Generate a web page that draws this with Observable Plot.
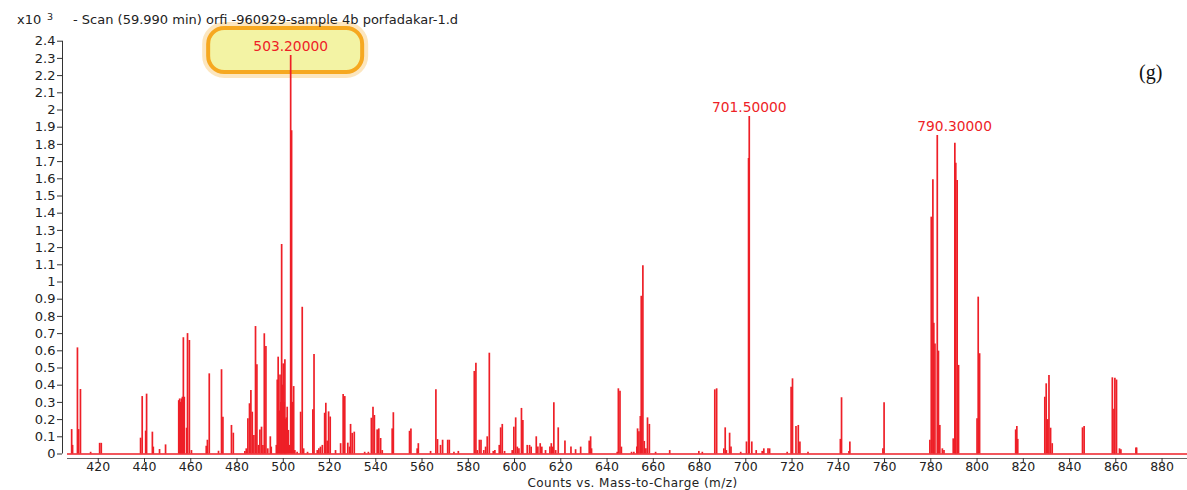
<!DOCTYPE html>
<html><head><meta charset="utf-8">
<script src="https://cdn.jsdelivr.net/npm/d3@7"></script>
<script src="https://cdn.jsdelivr.net/npm/@observablehq/plot@0.6"></script>
<style>
html,body{margin:0;padding:0;background:#fff;}
#wrap{position:relative;width:1187px;height:490px;overflow:hidden;font-family:"DejaVu Sans",sans-serif;color:#222;}
.hdr{position:absolute;top:12px;font-size:13px;white-space:pre;line-height:15px;}
#x10{left:17px;}
#exp{left:47px;top:9px;font-size:9.5px;}
#scan{left:73px;}
#tag{position:absolute;left:1139px;top:61px;font-family:"Liberation Serif",serif;font-size:20px;color:#111;}
</style></head><body>
<div id="wrap"><div id="chart"></div>
<div class="hdr" id="x10">x10</div><div class="hdr" id="exp">3</div>
<div class="hdr" id="scan">- Scan (59.990 min) orfi -960929-sample 4b porfadakar-1.d</div>
<div id="tag">(g)</div></div>
<script>
// m/z of each profile line
const mz = [408.5,408.9,411.0,411.5,412.3,416.7,420.6,421.3,438.3,439.0,440.5,440.9,443.4,443.8,446.5,449.1,
454.8,455.2,455.6,456.0,456.4,456.8,457.2,458.2,458.6,459.4,460.3,466.7,467.2,468.0,472.0,473.3,473.9,477.6,478.4,
483.4,484.0,484.7,485.4,486.0,486.6,487.3,488.0,488.6,489.3,489.9,490.6,491.2,491.8,492.5,493.3,494.4,494.8,
497.0,497.4,497.8,498.3,498.6,499.0,499.3,499.6,500.0,500.4,500.7,501.0,501.3,501.7,502.2,502.6,503.2,503.6,504.1,504.5,505.0,506.0,
507.5,508.2,508.8,510.5,512.8,513.3,514.7,515.4,516.1,516.9,517.9,518.4,519.0,519.6,520.3,522.6,524.8,525.9,526.6,527.9,528.7,529.1,529.8,530.7,
535.2,536.8,538.1,538.8,539.4,540.6,541.3,542.1,542.8,547.1,547.6,554.6,555.2,557.9,558.4,563.7,566.0,566.7,568.0,568.9,571.1,571.8,573.8,575.7,
582.6,583.3,583.9,584.8,585.5,586.7,587.5,588.2,589.1,590.8,591.5,593.4,594.0,594.7,595.7,599.0,599.7,600.5,601.2,601.9,603.0,603.6,
605.5,606.5,607.2,609.4,610.1,611.1,611.8,613.4,615.3,615.9,616.3,617.0,617.8,618.9,621.8,624.4,626.4,628.6,632.3,632.9,633.3,
644.4,644.9,645.6,646.2,650.6,651.6,652.9,653.2,653.8,654.4,654.8,655.5,656.1,656.8,657.5,658.3,661.0,667.1,679.7,681.2,
686.6,687.4,690.5,691.1,691.6,693.0,693.6,697.8,700.3,701.2,701.5,702.6,704.5,707.1,707.8,709.6,710.3,
717.9,719.6,720.2,721.7,722.7,723.4,726.9,740.9,741.4,744.6,745.0,759.3,759.8,
779.6,780.2,780.9,781.3,781.8,782.8,783.3,783.9,785.0,785.7,789.7,790.4,790.8,791.4,792.0,800.0,800.5,801.1,
816.7,817.2,817.6,829.3,829.9,830.6,831.1,831.8,832.5,845.6,846.3,858.5,859.2,859.6,860.3,861.6,862.2,868.7,869.0];
// counts (x10^3)
const counts = [0.142,0.05,0.617,0.142,0.375,0.01,0.062,0.062,0.092,0.334,0.133,0.348,0.127,0.04,0.026,0.053,
0.31,0.32,0.30,0.32,0.33,0.676,0.33,0.15,0.70,0.66,0.02,0.045,0.08,0.466,0.016,0.49,0.214,0.166,0.121,
0.015,0.03,0.205,0.292,0.369,0.243,0.108,0.741,0.519,0.05,0.14,0.156,0.05,0.699,0.625,0.03,0.10,0.04,
0.05,0.43,0.563,0.25,0.46,0.30,1.218,0.40,0.524,0.30,0.548,0.20,0.21,0.272,0.137,0.05,2.317,1.88,0.30,0.392,0.02,0.01,
0.243,0.853,0.03,0.01,0.257,0.578,0.02,0.03,0.04,0.05,0.237,0.295,0.075,0.245,0.215,0.02,0.06,0.346,0.334,0.063,0.04,0.172,0.12,0.127,
0.01,0.01,0.208,0.272,0.224,0.14,0.146,0.09,0.02,0.146,0.24,0.132,0.146,0.03,0.06,0.015,0.373,0.084,0.05,0.08,0.08,0.08,0.01,0.015,
0.48,0.528,0.02,0.08,0.08,0.02,0.04,0.10,0.586,0.015,0.02,0.05,0.152,0.172,0.015,0.02,0.156,0.21,0.04,0.03,0.265,0.195,
0.05,0.05,0.04,0.10,0.04,0.06,0.04,0.02,0.04,0.06,0.04,0.298,0.02,0.152,0.075,0.04,0.025,0.04,0.075,0.10,0.03,
0.01,0.379,0.365,0.04,0.01,0.01,0.04,0.146,0.13,0.218,0.917,1.094,0.073,0.03,0.21,0.172,0.01,0.02,0.015,0.01,
0.373,0.379,0.03,0.152,0.02,0.121,0.04,0.01,0.07,1.718,1.962,0.07,0.02,0.015,0.03,0.03,0.03,
0.01,0.388,0.437,0.16,0.166,0.07,0.01,0.085,0.327,0.015,0.07,0.03,0.298,
0.08,1.377,1.594,0.76,0.64,1.852,0.598,0.166,0.03,0.02,0.088,1.807,1.69,1.59,0.515,0.205,0.912,0.583,
0.14,0.16,0.085,0.33,0.408,0.20,0.456,0.15,0.06,0.152,0.16,0.443,0.26,0.44,0.43,0.03,0.025,0.035,0.035];
// annotated peaks
const labelMz = [503.2, 701.5, 790.3];
const labelCounts = [2.317, 1.962, 1.852];
const labelText = ["503.20000", "701.50000", "790.30000"];
const xTicks = [420,440,460,480,500,520,540,560,580,600,620,640,660,680,700,720,740,760,780,800,820,840,860,880];
const yTicks = [0,0.1,0.2,0.3,0.4,0.5,0.6,0.7,0.8,0.9,1,1.1,1.2,1.3,1.4,1.5,1.6,1.7,1.8,1.9,2,2.1,2.2,2.3,2.4];
const xTitle = "Counts vs. Mass-to-Charge (m/z)";

const peaks = mz.map((m, i) => ({mz: m, v: counts[i]}));
const labels = labelMz.map((m, i) => ({mz: m, v: labelCounts[i], t: labelText[i]}));
const hl = [labels[0]];
const red = "#ee1f27";
const xmin = 406.7, xmax = 891;

const chart = Plot.plot({
  width: 1187, height: 490,
  marginLeft: 67, marginRight: 0, marginTop: 40.7, marginBottom: 36.5,
  x: {domain: [xmin, xmax], label: null},
  y: {domain: [0, 2.4], label: null},
  style: {fontFamily: "DejaVu Sans, sans-serif", fontSize: "13px", color: "#222", background: "#fff", overflow: "visible"},
  marks: [
    Plot.rect(hl, {x1: "mz", x2: "mz", y1: "v", y2: "v", insetLeft: -84, insetRight: -74, insetTop: -29, insetBottom: -19,
      fill: "none", stroke: "#f8c870", strokeWidth: 8, strokeOpacity: 0.45, rx: 18}),
    Plot.rect(hl, {x1: "mz", x2: "mz", y1: "v", y2: "v", insetLeft: -82, insetRight: -72, insetTop: -27, insetBottom: -17,
      fill: "#f3f3a4", stroke: "#f6a820", strokeWidth: 4, rx: 16}),
    Plot.ruleY([0], {stroke: red, strokeWidth: 1.5}),
    Plot.ruleX(peaks, {x: "mz", y1: 0, y2: "v", stroke: red, strokeWidth: 1.7}),
    Plot.ruleY([0], {stroke: "#666", strokeWidth: 1.2, dy: 4.5}),
    Plot.ruleX([xmin], {y1: 0, y2: 2.4, dx: -5, stroke: "#333"}),
    Plot.axisX({ticks: xTicks, tickSize: 4, tickPadding: 0, dy: 4.5, fontSize: 12.5, tickFormat: d => d, label: null, stroke: "#333"}),
    Plot.axisY({ticks: yTicks, tickSize: 5, tickPadding: 2, dx: -5, tickFormat: d => d3.format("~g")(d), label: null, stroke: "#333"}),
    Plot.text(labels, {x: "mz", y: "v", text: "t", dy: -9, fill: red, fontSize: 13.8, lineAnchor: "middle"}),
    Plot.text([xTitle], {frameAnchor: "bottom", text: d => d, dx: 5, dy: 32.5, lineAnchor: "bottom", fontSize: 12, fill: "#222"})
  ]
});
d3.select(chart).selectAll("text").filter(function() { return this.textContent === xTitle; }).attr("letter-spacing", "0.45");
document.getElementById("chart").appendChild(chart);
</script>
</body></html>
